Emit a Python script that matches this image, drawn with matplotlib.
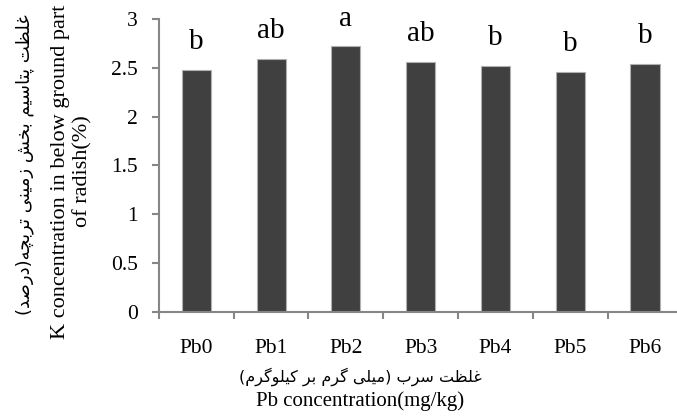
import matplotlib
matplotlib.use('Agg')
import matplotlib.pyplot as plt

# داده‌ها
treatments = ['Pb0', 'Pb1', 'Pb2', 'Pb3', 'Pb4', 'Pb5', 'Pb6']
k_conc = [2.48, 2.59, 2.72, 2.56, 2.52, 2.46, 2.54]
groups = ['b', 'ab', 'a', 'ab', 'b', 'b', 'b']

ylabel_fa = 'غلظت پتاسیم بخش زمینی تربچه(درصد)'
ylabel_en = 'K concentration in below ground part\nof radish(%)'
xlabel_fa = 'غلظت سرب (میلی گرم بر کیلوگرم)'
xlabel_en = 'Pb concentration(mg/kg)'

# شکل‌دهی حروف فارسی (matplotlib خودش اتصال و راست‌به‌چپ ندارد)
# حرف -> (کد شکل جدا, دوطرفه)
JOIN = {
    'ا': (0xFE8D, False), 'ب': (0xFE8F, True), 'ت': (0xFE95, True),
    'خ': (0xFEA5, True), 'د': (0xFEA9, False), 'ر': (0xFEAD, False),
    'ز': (0xFEAF, False), 'س': (0xFEB1, True), 'ش': (0xFEB5, True),
    'ص': (0xFEB9, True), 'ظ': (0xFEC5, True), 'غ': (0xFECD, True),
    'ل': (0xFEDD, True), 'م': (0xFEE1, True), 'ن': (0xFEE5, True),
    'ه': (0xFEE9, True), 'و': (0xFEED, False), 'پ': (0xFB56, True),
    'چ': (0xFB7A, True), 'ک': (0xFB8E, True), 'گ': (0xFB92, True),
    'ی': (0xFBFC, True),
}


def farsi(s):
    out = []
    for i, c in enumerate(s):
        if c not in JOIN:
            out.append(c)
            continue
        base, dual = JOIN[c]
        prev = s[i - 1] if i > 0 else ''
        nxt = s[i + 1] if i + 1 < len(s) else ''
        jp = prev in JOIN and JOIN[prev][1]
        jn = dual and nxt in JOIN
        if jp and jn:
            code = base + 3
        elif jp:
            code = base + 1
        elif jn:
            code = base + 2
        else:
            code = base
        out.append(chr(code))
    vis = ''.join(reversed(out))
    return vis.translate(str.maketrans('()', ')('))


plt.rcParams['font.family'] = 'Liberation Serif'

fig = plt.figure(figsize=(6.77, 4.18), dpi=100)
ax = fig.add_axes([0.2347, 0.2543, 0.7734, 0.7002])

x = range(len(treatments))
ax.bar(x, k_conc, width=0.39, color='#404040', edgecolor='#b0b0b0', linewidth=0.8)

for i, (v, g) in enumerate(zip(k_conc, groups)):
    ax.text(i, v + 0.15, g, ha='center', va='bottom', fontsize=21)

ax.set_xlim(-0.5, 6.5)
ax.set_ylim(0, 3)
ax.set_yticks([0, 0.5, 1, 1.5, 2, 2.5, 3])
ax.set_yticklabels(['0', '0.5', '1', '1.5', '2', '2.5', '3'])
ax.set_xticks([i - 0.5 for i in range(len(treatments) + 1)], minor=False)
ax.set_xticklabels([])
ax.set_xticks(list(x), minor=True)
ax.set_xticklabels(treatments, minor=True)

for s in ['top', 'right']:
    ax.spines[s].set_visible(False)
for s in ['left', 'bottom']:
    ax.spines[s].set_color('#868686')
    ax.spines[s].set_linewidth(1.5)

ax.tick_params(axis='y', direction='out', length=5, width=1.5, color='#868686',
               labelsize=15.5, pad=10)
ax.tick_params(axis='x', which='major', direction='out', length=5, width=1.5,
               color='#868686')
ax.tick_params(axis='x', which='minor', length=0, labelsize=15.5, pad=20)

fig.text(0.037, 0.605, farsi(ylabel_fa), rotation=90, ha='center', va='center',
         fontsize=13, family=['DejaVu Sans'])
fig.text(0.106, 0.59, ylabel_en, rotation=90, ha='center', va='center',
         fontsize=16, multialignment='center', linespacing=1.2)
fig.text(0.532, 0.1, farsi(xlabel_fa), ha='center', va='center',
         fontsize=11.5, family=['DejaVu Sans'])
fig.text(0.532, 0.04, xlabel_en, ha='center', va='center', fontsize=15)

fig.savefig('out.png', dpi=100)
